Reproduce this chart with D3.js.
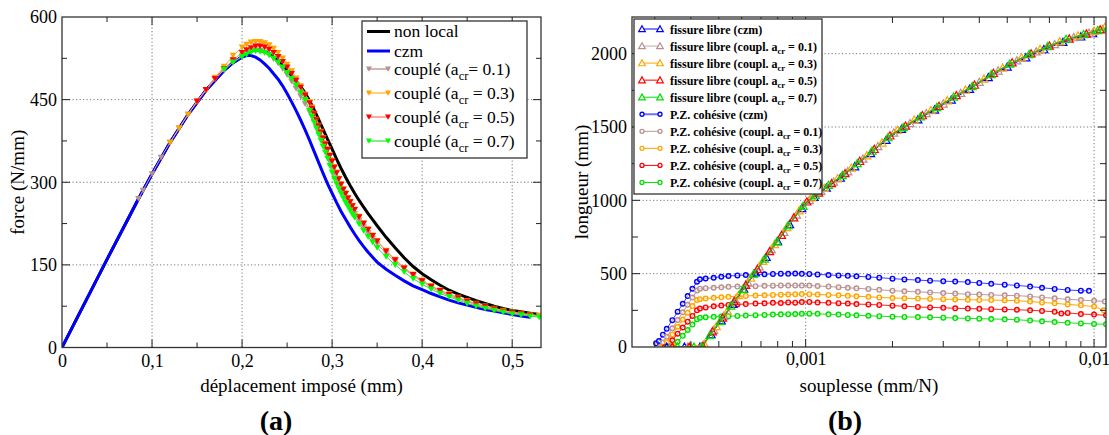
<!DOCTYPE html>
<html><head><meta charset="utf-8">
<script src="https://cdn.jsdelivr.net/npm/d3@7"></script>
<style>
body{margin:0;background:#fff}
.grid{stroke:#777;stroke-width:1;stroke-dasharray:1.2,2.3}
</style></head><body>
<svg id="c" width="1109" height="435"></svg>
<script>
// ---------------- DATA: left chart (force vs imposed displacement) ----------------
const nonLocal = [[0,0],[0.05,160],[0.085,270],[0.1,315],[0.12,372],[0.14,423],[0.16,467],[0.18,503],[0.19,517],[0.2,528],[0.205,534],[0.21,538],[0.215,540],[0.22,539],[0.225,537],[0.23,533],[0.235,527],[0.24,520],[0.245,511],[0.25,502],[0.255,493],[0.26,484],[0.265,474],[0.27,462],[0.275,448],[0.28,432],[0.285,414],[0.29,396],[0.295,378],[0.3,360],[0.305,342],[0.31,325],[0.315,309],[0.32,294],[0.325,280],[0.33,267],[0.335,255],[0.34,243],[0.345,232],[0.35,221],[0.36,200],[0.37,181],[0.38,163],[0.39,147],[0.4,134],[0.41,123],[0.42,113],[0.43,104],[0.44,97],[0.45,91],[0.46,85],[0.47,80],[0.48,75],[0.49,71],[0.5,67],[0.51,65],[0.52,62],[0.53,60],[0.535,59]];
const czm = [[0,0],[0.05,160],[0.085,270],[0.1,315],[0.12,372],[0.14,423],[0.16,467],[0.18,503],[0.19,517],[0.2,527],[0.205,530],[0.21,530],[0.215,527],[0.22,522],[0.225,515],[0.23,507],[0.235,497],[0.24,487],[0.245,475],[0.25,461],[0.255,446],[0.26,430],[0.265,413],[0.27,395],[0.275,376],[0.28,356],[0.285,336],[0.29,316],[0.295,297],[0.3,280],[0.305,263],[0.31,247],[0.315,233],[0.32,219],[0.325,206],[0.33,194],[0.335,183],[0.34,173],[0.345,164],[0.35,155],[0.36,142],[0.37,131],[0.38,121],[0.39,112],[0.4,105],[0.41,98],[0.42,92],[0.43,86],[0.44,81],[0.45,77],[0.46,73],[0.47,69],[0.48,66],[0.49,63],[0.5,60],[0.51,57],[0.52,55]];
const couple01 = [[0.085,270],[0.09,285],[0.1,315],[0.11,345],[0.12,372],[0.13,398],[0.14,423],[0.15,446],[0.16,467],[0.17,487],[0.18,504],[0.19,518],[0.2,529],[0.205,534],[0.21,538],[0.215,540],[0.22,539],[0.225,536],[0.23,531],[0.235,524],[0.24,516],[0.245,506],[0.25,495],[0.255,483],[0.26,470],[0.265,456],[0.27,442],[0.275,427],[0.2775,419],[0.28,410],[0.2825,401],[0.285,391],[0.2875,381],[0.29,371],[0.2925,361],[0.295,350],[0.2975,339],[0.3,328],[0.3025,317],[0.305,306],[0.3075,297],[0.31,288],[0.3125,280],[0.315,272],[0.3175,264],[0.32,257],[0.3225,250],[0.325,243],[0.33,231],[0.335,219],[0.34,208],[0.345,198],[0.35,188],[0.36,171],[0.37,156],[0.38,142],[0.39,130],[0.4,119],[0.41,109],[0.42,101],[0.43,94],[0.44,88],[0.45,83],[0.46,77],[0.47,73],[0.48,69],[0.49,65],[0.5,62],[0.51,60],[0.52,58]];
const couple03 = [[0.12,372],[0.13,398],[0.14,423],[0.15,447],[0.16,468],[0.17,490],[0.18,510],[0.19,530],[0.2,545],[0.205,550],[0.21,554],[0.215,555],[0.22,555],[0.225,553],[0.23,549],[0.235,543],[0.24,535],[0.245,525],[0.25,514],[0.255,502],[0.26,489],[0.265,475],[0.27,460],[0.275,446],[0.2775,436],[0.28,425],[0.2825,414],[0.285,403],[0.2875,392],[0.29,381],[0.2925,370],[0.295,360],[0.2975,349],[0.3,339],[0.3025,328],[0.305,318],[0.3075,307],[0.31,297],[0.3125,288],[0.315,280],[0.3175,272],[0.32,265],[0.3225,258],[0.325,251],[0.33,238],[0.335,226],[0.34,215],[0.345,204],[0.35,194],[0.36,176],[0.37,160],[0.38,145],[0.39,133],[0.4,122],[0.41,112],[0.42,104],[0.43,97],[0.44,91],[0.45,85],[0.46,80],[0.47,75],[0.48,71],[0.49,67],[0.5,64],[0.51,62],[0.52,60],[0.53,58]];
const couple05 = [[0.15,447],[0.16,468],[0.17,488],[0.18,506],[0.19,522],[0.2,535],[0.205,540],[0.21,544],[0.215,547],[0.22,547],[0.225,545],[0.23,541],[0.235,535],[0.24,528],[0.245,519],[0.25,509],[0.255,497],[0.26,485],[0.265,472],[0.27,458],[0.275,444],[0.2775,434],[0.28,424],[0.2825,413],[0.285,402],[0.2875,391],[0.29,380],[0.2925,369],[0.295,359],[0.2975,348],[0.3,338],[0.3025,327],[0.305,317],[0.3075,306],[0.31,296],[0.3125,287],[0.315,279],[0.3175,271],[0.32,264],[0.3225,257],[0.325,250],[0.33,237],[0.335,225],[0.34,214],[0.345,203],[0.35,193],[0.36,175],[0.37,159],[0.38,144],[0.39,132],[0.4,121],[0.41,111],[0.42,103],[0.43,96],[0.44,90],[0.45,84],[0.46,79],[0.47,74],[0.48,70],[0.49,66],[0.5,63],[0.51,61],[0.52,59]];
const couple07 = [[0.18,505],[0.19,518],[0.2,528],[0.205,532],[0.21,536],[0.215,538],[0.22,537],[0.225,535],[0.23,531],[0.235,525],[0.24,518],[0.245,509],[0.25,499],[0.255,488],[0.26,476],[0.265,463],[0.27,450],[0.275,430],[0.2775,420],[0.28,409],[0.2825,398],[0.285,387],[0.2875,376],[0.29,365],[0.2925,354],[0.295,343],[0.2975,330],[0.3,318],[0.3025,307],[0.305,297],[0.3075,288],[0.31,279],[0.3125,271],[0.315,263],[0.3175,256],[0.32,249],[0.3225,242],[0.325,236],[0.33,224],[0.335,212],[0.34,201],[0.345,191],[0.35,181],[0.36,165],[0.37,150],[0.38,137],[0.39,125],[0.4,115],[0.41,106],[0.42,98],[0.43,92],[0.44,86],[0.45,80],[0.46,75],[0.47,71],[0.48,67],[0.49,64],[0.5,61],[0.51,59],[0.52,57],[0.53,55]];
const leftXTicks = [0,0.1,0.2,0.3,0.4,0.5];
const leftYTicks = [0,150,300,450,600];
const leftLegendLabels = ["non local","czm","couplé (a|cr|= 0.1)","couplé (a|cr| = 0.3)","couplé (a|cr| = 0.5)","couplé (a|cr| = 0.7)"];

// ---------------- DATA: right chart (length vs compliance) ----------------
const libreCzm = [[3.3e-4,0],[3.8e-4,0],[4.3e-4,0],[4.7e-4,85],[5.1e-4,180],[5.6e-4,292],[6.1e-4,395],[6.7e-4,507],[7.3e-4,612],[8.0e-4,720],[8.8e-4,836],[9.7e-4,945],[1.07e-3,1022],[1.18e-3,1085],[1.32e-3,1152],[1.48e-3,1230],[1.68e-3,1320],[1.9e-3,1410],[2.15e-3,1485],[2.45e-3,1550],[2.8e-3,1617],[3.2e-3,1685],[3.7e-3,1758],[4.3e-3,1838],[5.0e-3,1910],[5.8e-3,1973],[6.7e-3,2028],[7.8e-3,2078],[9.0e-3,2115],[9.9e-3,2137]];
const libre01 = [[3.4e-4,0],[3.9e-4,0],[4.35e-4,0],[4.8e-4,115],[5.2e-4,210],[5.7e-4,318],[6.3e-4,440],[6.9e-4,548],[7.6e-4,665],[8.4e-4,782],[9.3e-4,900],[1.03e-3,1000],[1.13e-3,1062],[1.25e-3,1125],[1.4e-3,1196],[1.58e-3,1282],[1.78e-3,1367],[2.02e-3,1460],[2.3e-3,1524],[2.62e-3,1592],[3.0e-3,1658],[3.45e-3,1730],[4.0e-3,1805],[4.65e-3,1883],[5.4e-3,1952],[6.3e-3,2013],[7.3e-3,2063],[8.5e-3,2110],[9.6e-3,2140],[1.07e-2,2165]];
const libre03 = [[3.5e-4,0],[4.0e-4,0],[4.45e-4,20],[4.9e-4,140],[5.35e-4,245],[5.85e-4,352],[6.45e-4,470],[7.1e-4,585],[7.8e-4,700],[8.6e-4,815],[9.5e-4,930],[1.05e-3,1018],[1.16e-3,1082],[1.29e-3,1148],[1.44e-3,1220],[1.63e-3,1305],[1.84e-3,1392],[2.08e-3,1478],[2.38e-3,1548],[2.72e-3,1612],[3.1e-3,1680],[3.58e-3,1752],[4.15e-3,1828],[4.82e-3,1903],[5.6e-3,1972],[6.5e-3,2030],[7.6e-3,2082],[8.8e-3,2122],[1.0e-2,2154],[1.09e-2,2180]];
const libre05 = [[3.45e-4,0],[3.95e-4,0],[4.4e-4,5],[4.75e-4,105],[5.15e-4,198],[5.65e-4,310],[6.2e-4,422],[6.8e-4,530],[7.5e-4,652],[8.25e-4,762],[9.1e-4,882],[1.01e-3,990],[1.11e-3,1050],[1.23e-3,1115],[1.37e-3,1183],[1.54e-3,1266],[1.73e-3,1348],[1.96e-3,1440],[2.22e-3,1507],[2.54e-3,1578],[2.9e-3,1642],[3.33e-3,1715],[3.85e-3,1786],[4.48e-3,1866],[5.2e-3,1938],[6.05e-3,2000],[7.0e-3,2053],[8.2e-3,2101],[9.4e-3,2135],[1.05e-2,2163]];
const libre07 = [[3.6e-4,0],[4.1e-4,0],[4.36e-4,0],[4.65e-4,78],[5.05e-4,175],[5.5e-4,280],[6.05e-4,392],[6.6e-4,498],[7.2e-4,600],[7.95e-4,718],[8.7e-4,828],[9.8e-4,960],[1.08e-3,1035],[1.2e-3,1103],[1.34e-3,1170],[1.51e-3,1252],[1.7e-3,1336],[1.93e-3,1428],[2.18e-3,1497],[2.5e-3,1570],[2.85e-3,1634],[3.26e-3,1705],[3.78e-3,1777],[4.4e-3,1858],[5.1e-3,1930],[5.95e-3,1995],[6.9e-3,2049],[8.0e-3,2098],[9.2e-3,2131],[1.03e-2,2158],[1.12e-2,2175]];
const pzCzm = [[3.03e-4,25],[3.1e-4,41],[3.2e-4,84],[3.3e-4,124],[3.45e-4,183],[3.6e-4,241],[3.75e-4,295],[3.9e-4,347],[4.05e-4,397],[4.2e-4,445],[4.3e-4,462],[4.5e-4,467],[4.8e-4,472],[5.1e-4,479],[5.4e-4,484],[5.8e-4,488],[6.2e-4,491],[6.7e-4,494],[7.2e-4,496],[7.7e-4,498],[8.2e-4,500],[8.7e-4,499],[9.2e-4,501],[9.7e-4,499],[1.03e-3,498],[1.1e-3,495],[1.2e-3,491],[1.3e-3,488],[1.4e-3,485],[1.5e-3,482],[1.65e-3,478],[1.8e-3,473],[2.0e-3,466],[2.2e-3,461],[2.45e-3,456],[2.7e-3,452],[3.0e-3,449],[3.3e-3,446],[3.65e-3,443],[4.0e-3,437],[4.4e-3,431],[4.9e-3,425],[5.4e-3,420],[6.0e-3,412],[6.6e-3,404],[7.3e-3,396],[8.1e-3,389],[9.0e-3,384],[9.6e-3,383]];
const pz01 = [[3.13e-4,0],[3.2e-4,30],[3.3e-4,70],[3.45e-4,128],[3.6e-4,184],[3.75e-4,237],[3.9e-4,288],[4.05e-4,337],[4.2e-4,385],[4.3e-4,398],[4.5e-4,401],[4.8e-4,404],[5.1e-4,407],[5.4e-4,410],[5.8e-4,412],[6.2e-4,414],[6.7e-4,415],[7.2e-4,417],[7.7e-4,418],[8.2e-4,420],[8.7e-4,419],[9.2e-4,420],[9.7e-4,419],[1.03e-3,419],[1.1e-3,416],[1.2e-3,412],[1.3e-3,408],[1.4e-3,404],[1.5e-3,400],[1.65e-3,396],[1.8e-3,390],[2.0e-3,384],[2.2e-3,380],[2.45e-3,376],[2.7e-3,372],[3.0e-3,368],[3.3e-3,364],[3.65e-3,360],[4.0e-3,358],[4.4e-3,355],[4.9e-3,352],[5.4e-3,350],[6.0e-3,345],[6.6e-3,338],[7.3e-3,332],[8.1e-3,325],[9.0e-3,320],[1.0e-2,315],[1.09e-2,311]];
const pz03 = [[3.2e-4,0],[3.3e-4,33],[3.45e-4,86],[3.6e-4,138],[3.75e-4,187],[3.9e-4,234],[4.05e-4,279],[4.2e-4,320],[4.3e-4,326],[4.5e-4,330],[4.8e-4,335],[5.1e-4,339],[5.4e-4,342],[5.8e-4,345],[6.2e-4,348],[6.7e-4,351],[7.2e-4,353],[7.7e-4,355],[8.2e-4,357],[8.7e-4,358],[9.2e-4,360],[9.7e-4,361],[1.03e-3,360],[1.1e-3,358],[1.2e-3,355],[1.3e-3,352],[1.4e-3,349],[1.5e-3,346],[1.65e-3,342],[1.8e-3,338],[2.0e-3,334],[2.2e-3,332],[2.45e-3,330],[2.7e-3,328],[3.0e-3,326],[3.3e-3,324],[3.65e-3,322],[4.0e-3,321],[4.4e-3,320],[4.9e-3,318],[5.4e-3,316],[6.0e-3,310],[6.6e-3,304],[7.3e-3,298],[8.1e-3,290],[9.0e-3,284],[1.0e-2,276],[1.08e-2,250]];
const pz05 = [[3.25e-4,0],[3.32e-4,0],[3.45e-4,46],[3.6e-4,91],[3.75e-4,133],[3.9e-4,173],[4.05e-4,212],[4.2e-4,250],[4.3e-4,262],[4.5e-4,270],[4.8e-4,278],[5.1e-4,283],[5.4e-4,287],[5.8e-4,290],[6.2e-4,293],[6.7e-4,296],[7.2e-4,298],[7.7e-4,301],[8.2e-4,300],[8.7e-4,304],[9.2e-4,302],[9.7e-4,306],[1.03e-3,307],[1.1e-3,303],[1.2e-3,301],[1.3e-3,299],[1.4e-3,296],[1.5e-3,293],[1.65e-3,290],[1.8e-3,287],[2.0e-3,282],[2.2e-3,278],[2.45e-3,273],[2.7e-3,270],[3.0e-3,267],[3.3e-3,264],[3.65e-3,262],[4.0e-3,260],[4.4e-3,258],[4.9e-3,256],[5.4e-3,254],[6.0e-3,250],[6.6e-3,246],[7.3e-3,240],[7.7e-3,228],[8.1e-3,232],[9.0e-3,225],[1.0e-2,221],[1.1e-2,216]];
const pz07 = [[3.3e-4,0],[3.4e-4,0],[3.5e-4,0],[3.6e-4,35],[3.75e-4,76],[3.9e-4,116],[4.05e-4,153],[4.2e-4,190],[4.3e-4,200],[4.5e-4,203],[4.8e-4,206],[5.1e-4,208],[5.4e-4,210],[5.8e-4,212],[6.2e-4,214],[6.7e-4,217],[7.2e-4,219],[7.7e-4,221],[8.2e-4,223],[8.7e-4,224],[9.2e-4,225],[9.7e-4,226],[1.03e-3,227],[1.1e-3,226],[1.2e-3,223],[1.3e-3,221],[1.4e-3,219],[1.5e-3,216],[1.65e-3,213],[1.8e-3,210],[2.0e-3,207],[2.2e-3,205],[2.45e-3,204],[2.7e-3,202],[3.0e-3,200],[3.3e-3,197],[3.65e-3,195],[4.0e-3,193],[4.4e-3,191],[4.9e-3,189],[5.4e-3,186],[6.0e-3,180],[6.6e-3,175],[7.3e-3,170],[8.1e-3,165],[9.0e-3,161],[1.0e-2,157],[1.1e-2,155]];
const rightXTicks = [0.001,0.01];
const rightXMinor = [3e-4,4e-4,5e-4,6e-4,7e-4,8e-4,9e-4,2e-3,3e-3,4e-3,5e-3,6e-3,7e-3,8e-3,9e-3];
const rightYTicks = [0,500,1000,1500,2000];
const rightLegendLabels = ["fissure libre (czm)","fissure libre (coupl. a|cr| = 0.1)","fissure libre (coupl. a|cr| = 0.3)","fissure libre (coupl. a|cr| = 0.5)","fissure libre (coupl. a|cr| = 0.7)","P.Z. cohésive (czm)","P.Z. cohésive (coupl. a|cr| = 0.1)","P.Z. cohésive (coupl. a|cr| = 0.3)","P.Z. cohésive (coupl. a|cr| = 0.5)","P.Z. cohésive (coupl. a|cr| = 0.7)"];

// ---------------- FONT: pick an installed Times-like serif ----------------
function pickFont(cands){
  const c = document.createElement("canvas").getContext("2d");
  const s = "mmmmmmmmmmlliWW0123456789(abcdef)";
  for(const f of cands){
    c.font = `40px "${f}", monospace`; const a = c.measureText(s).width;
    c.font = `40px "${f}", sans-serif`; const b = c.measureText(s).width;
    if(Math.abs(a-b) < 0.01) return `"${f}"`;
  }
  return "serif";
}
const FONT = pickFont(["Liberation Serif","Times New Roman","Tinos","Nimbus Roman","Nimbus Roman No9 L","Noto Serif","DejaVu Serif"]);

// ---------------- RENDER ----------------
const svg = d3.select("#c").style("font-family", FONT);
const comma = s => s.replace(".", ",");
const L = {x0:62, x1:541, y0:17, y1:347.5};
const R = {x0:632, x1:1106, y0:17, y1:347};
const xL = d3.scaleLinear().domain([0,0.532]).range([L.x0,L.x1]);
const yL = d3.scaleLinear().domain([0,600]).range([L.y1,L.y0]);
const xR = d3.scaleLog().domain([2.5e-4,0.011]).range([R.x0,R.x1]);
const yR = d3.scaleLinear().domain([0,2250]).range([R.y1,R.y0]);

const defs = svg.append("defs");
[["clipL",L],["clipR",R]].forEach(([id,P])=>{
  defs.append("clipPath").attr("id",id).append("rect")
    .attr("x",P.x0).attr("y",P.y0).attr("width",P.x1-P.x0).attr("height",P.y1-P.y0);
});

function grid(P, xs, ys, xg, yg){
  const g = svg.append("g");
  g.selectAll(null).data(xg).join("line").attr("class","grid")
    .attr("x1",d=>xs(d)).attr("x2",d=>xs(d)).attr("y1",P.y0).attr("y2",P.y1);
  g.selectAll(null).data(yg).join("line").attr("class","grid")
    .attr("y1",d=>ys(d)).attr("y2",d=>ys(d)).attr("x1",P.x0).attr("x2",P.x1);
}
function ticks(P, xs, ys, xv, yv, len){
  const g = svg.append("g").attr("stroke","#222").attr("stroke-width",1);
  xv.forEach(v=>{ const x=xs(v);
    g.append("line").attr("x1",x).attr("x2",x).attr("y1",P.y1).attr("y2",P.y1-len);
    g.append("line").attr("x1",x).attr("x2",x).attr("y1",P.y0).attr("y2",P.y0+len); });
  yv.forEach(v=>{ const y=ys(v);
    g.append("line").attr("y1",y).attr("y2",y).attr("x1",P.x0).attr("x2",P.x0+len);
    g.append("line").attr("y1",y).attr("y2",y).attr("x1",P.x1).attr("x2",P.x1-len); });
}
function frame(P){
  svg.append("rect").attr("x",P.x0).attr("y",P.y0).attr("width",P.x1-P.x0).attr("height",P.y1-P.y0)
    .attr("fill","none").attr("stroke","#333").attr("stroke-width",1.3);
}
function labels(P, xAxis, yAxis){
  const gx = svg.append("g").attr("transform",`translate(0,${P.y1})`).call(xAxis);
  gx.attr("font-family",null).attr("font-size",18);
  gx.select(".domain").remove(); gx.selectAll("line").remove();
  gx.selectAll("text").attr("fill","#000");
  const gy = svg.append("g").attr("transform",`translate(${P.x0},0)`).call(yAxis);
  gy.attr("font-family",null).attr("font-size",18);
  gy.select(".domain").remove(); gy.selectAll("line").remove();
  gy.selectAll("text").attr("fill","#000");
}
const triDown = (s)=>`M${-s},${-s*0.8}L${s},${-s*0.8}L0,${s*0.9}Z`;
const triUp = (s)=>`M0,${-s}L${s},${s*0.8}L${-s},${s*0.8}Z`;

// ===== LEFT CHART =====
grid(L, xL, yL, [0.1,0.2,0.3,0.4,0.5], [150,300,450]);
const gL = svg.append("g").attr("clip-path","url(#clipL)");
const lineL = d3.line().x(d=>xL(d[0])).y(d=>yL(d[1]));
gL.append("path").datum(nonLocal).attr("d",lineL).attr("fill","none").attr("stroke","#000").attr("stroke-width",3);
gL.append("path").datum(czm).attr("d",lineL).attr("fill","none").attr("stroke","#0000ff").attr("stroke-width",3);
const leftCoupled = [
  {data:couple01, line:"#c9a0a0", mark:"#b89090"},
  {data:couple03, line:"#ffb030", mark:"#ffa500"},
  {data:couple05, line:"#ff8080", mark:"#ff0000"},
  {data:couple07, line:"#30e030", mark:"#00ff00"}
];
leftCoupled.forEach(s=>{
  gL.append("path").datum(s.data).attr("d",lineL).attr("fill","none").attr("stroke",s.line).attr("stroke-width",1);
  gL.selectAll(null).data(s.data).join("path").attr("d",triDown(3.4))
    .attr("transform",d=>`translate(${xL(d[0])},${yL(d[1])})`).attr("fill",s.mark);
});
frame(L);
ticks(L, xL, yL, [0.05,0.15,0.25,0.35,0.45], [75,225,375,525], 5);
ticks(L, xL, yL, [0.1,0.2,0.3,0.4,0.5], [150,300,450], 8);
labels(L,
  d3.axisBottom(xL).tickValues(leftXTicks).tickSize(0).tickPadding(7).tickFormat(d=>d===0?"0":comma(d3.format(".1f")(d))),
  d3.axisLeft(yL).tickValues(leftYTicks).tickSize(0).tickPadding(5).tickFormat(d3.format("d")));
svg.append("text").attr("x",(L.x0+L.x1)/2).attr("y",392).attr("text-anchor","middle").attr("font-size",19).text("déplacement imposé (mm)");
svg.append("text").attr("transform",`translate(24,${(L.y0+L.y1)/2}) rotate(-90)`).attr("text-anchor","middle").attr("font-size",19).text("force (N/mm)");
svg.append("text").attr("x",276).attr("y",430).attr("text-anchor","middle").attr("font-size",28).attr("font-weight","bold").text("(a)");

// left legend
const legL = svg.append("g");
legL.append("rect").attr("x",362).attr("y",21).attr("width",165).attr("height",137).attr("fill","#fff").attr("stroke","#333").attr("stroke-width",1.3);
const legLStyles = [
  {line:"#000", w:3, mark:null},
  {line:"#0000ff", w:3, mark:null},
  {line:"#c9a0a0", w:1.6, mark:"#b89090"},
  {line:"#ffb030", w:1.2, mark:"#ffa500"},
  {line:"#ff9090", w:1.6, mark:"#ff0000"},
  {line:"#30e030", w:1.2, mark:"#00ff00"}
];
const legLY = [31.5,51,69,93,117,141];
leftLegendLabels.forEach((lab,i)=>{
  const y = legLY[i], st = legLStyles[i];
  legL.append("line").attr("x1",367).attr("x2",390).attr("y1",y).attr("y2",y).attr("stroke",st.line).attr("stroke-width",st.w);
  if(st.mark){ [369,388].forEach(x=>legL.append("path").attr("d",triDown(3)).attr("transform",`translate(${x},${y})`).attr("fill",st.mark)); }
  const parts = lab.split("|");
  const t = legL.append("text").attr("x",394).attr("y",y+5.5).attr("font-size",17.5);
  t.append("tspan").text(parts[0]);
  if(parts.length>1){
    t.append("tspan").attr("font-size",12.5).attr("dy",5).text(parts[1]);
    t.append("tspan").attr("dy",-5).text(parts[2]);
  }
});

// ===== RIGHT CHART =====
grid(R, xR, yR, [0.001,0.01], [500,1000,1500,2000]);
const gR = svg.append("g").attr("clip-path","url(#clipR)");
const lineR = d3.line().x(d=>xR(d[0])).y(d=>yR(d[1]));
const pzSeries = [
  {data:pzCzm, c:"#0000ff", line:"#4040ff"},
  {data:pz01, c:"#b89090", line:"#c09898"},
  {data:pz03, c:"#ffa500", line:"#ffa500"},
  {data:pz05, c:"#ff0000", line:"#ff2020"},
  {data:pz07, c:"#00e000", line:"#20e020"}
];
pzSeries.forEach(s=>{
  gR.append("path").datum(s.data).attr("d",lineR).attr("fill","none").attr("stroke",s.line).attr("stroke-width",1);
  gR.selectAll(null).data(s.data).join("circle").attr("cx",d=>xR(d[0])).attr("cy",d=>yR(d[1])).attr("r",2.3)
    .attr("fill","#fff").attr("fill-opacity",0.5).attr("stroke",s.c).attr("stroke-width",1.4);
});
const libreSeries = [
  {data:libreCzm, c:"#0000ff"},
  {data:libre01, c:"#b89090"},
  {data:libre03, c:"#ffa500"},
  {data:libre05, c:"#ff0000"},
  {data:libre07, c:"#00e000"}
];
libreSeries.forEach(s=>{
  gR.append("path").datum(s.data).attr("d",lineR).attr("fill","none").attr("stroke",s.c).attr("stroke-width",1);
  gR.selectAll(null).data(s.data).join("path").attr("d",triUp(4))
    .attr("transform",d=>`translate(${xR(d[0])},${yR(d[1])})`).attr("fill","none").attr("stroke",s.c).attr("stroke-width",1.2);
});
frame(R);
ticks(R, xR, yR, rightXMinor, [250,750,1250,1750], 6);
ticks(R, xR, yR, rightXTicks, [500,1000,1500,2000], 8);
labels(R,
  d3.axisBottom(xR).tickValues(rightXTicks).tickSize(0).tickPadding(5).tickFormat(d=>comma(String(d))),
  d3.axisLeft(yR).tickValues(rightYTicks).tickSize(0).tickPadding(5).tickFormat(d3.format("d")));
svg.append("text").attr("x",869).attr("y",392).attr("text-anchor","middle").attr("font-size",19).text("souplesse (mm/N)");
svg.append("text").attr("transform",`translate(588,${(R.y0+R.y1)/2}) rotate(-90)`).attr("text-anchor","middle").attr("font-size",19).text("longueur (mm)");
svg.append("text").attr("x",845).attr("y",430).attr("text-anchor","middle").attr("font-size",28).attr("font-weight","bold").text("(b)");

// right legend
const legR = svg.append("g");
legR.append("rect").attr("x",634).attr("y",19).attr("width",188).attr("height",175).attr("fill","#fff").attr("stroke","#333").attr("stroke-width",1.3);
const legRColors = ["#0000ff","#b89090","#ffa500","#ff0000","#00e000","#0000ff","#b89090","#ffa500","#ff0000","#00e000"];
const legRLine = ["#0000ff","#c9a8a8","#ffa500","#ff0000","#00e000","#7070ff","#c09898","#ffa500","#ff0000","#00e000"];
rightLegendLabels.forEach((lab,i)=>{
  const y = 29 + i*17.05;
  legR.append("line").attr("x1",641).attr("x2",661).attr("y1",y).attr("y2",y).attr("stroke",legRLine[i]).attr("stroke-width",i===5?2:1);
  [642,660].forEach(x=>{
    if(i<5) legR.append("path").attr("d",triUp(3.3)).attr("transform",`translate(${x},${y})`).attr("fill","#fff").attr("stroke",legRColors[i]).attr("stroke-width",1.2);
    else legR.append("circle").attr("cx",x).attr("cy",y).attr("r",2).attr("fill","#fff").attr("stroke",legRColors[i]).attr("stroke-width",1.3);
  });
  const parts = lab.split("|");
  const t = legR.append("text").attr("x",670).attr("y",y+4.5).attr("font-size",12).attr("font-weight","bold");
  t.append("tspan").text(parts[0]);
  if(parts.length>1){
    t.append("tspan").attr("font-size",8.5).attr("dy",3.5).text(parts[1]);
    t.append("tspan").attr("dy",-3.5).text(parts[2]);
  }
});
</script></body></html>
